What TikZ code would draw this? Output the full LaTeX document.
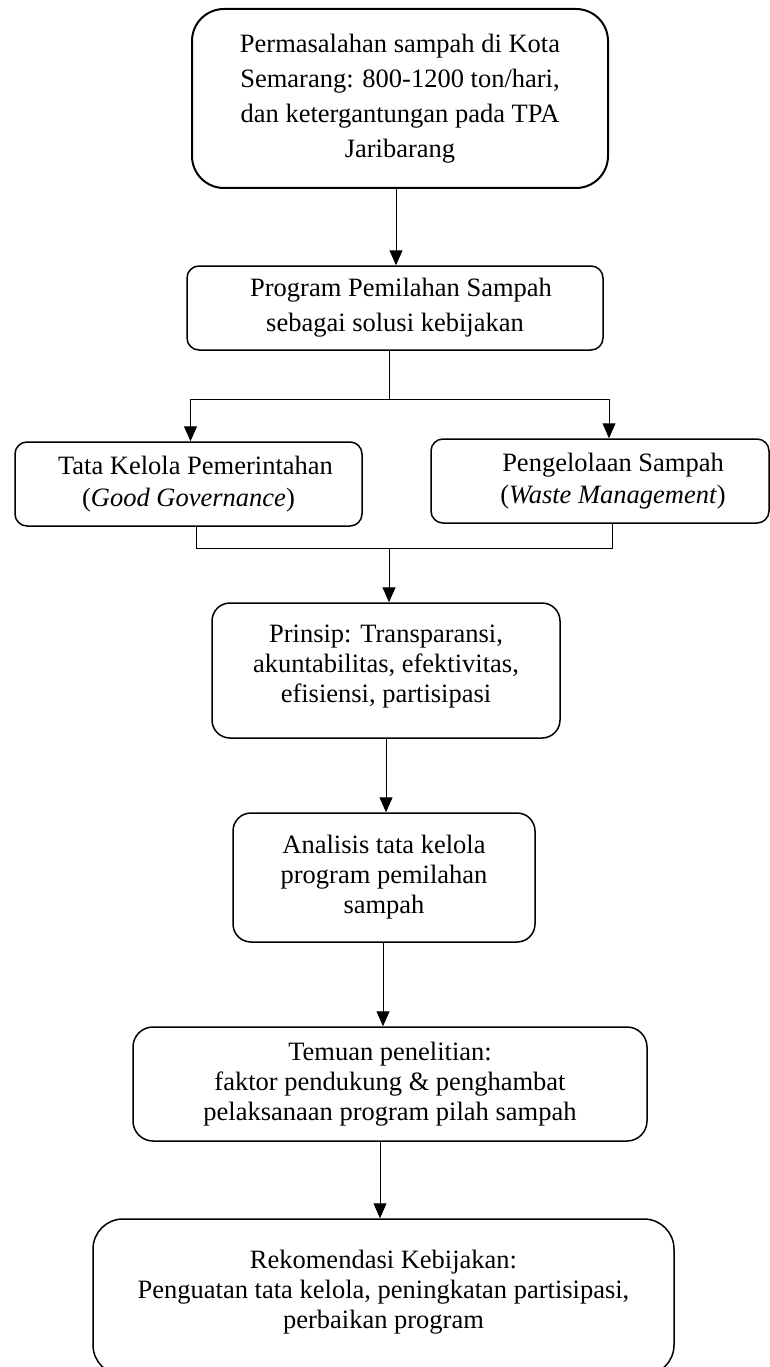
\documentclass[tikz,border=0pt]{standalone}
\usepackage{fontspec}
\setmainfont{Liberation Serif}
\usetikzlibrary{arrows.meta}
\begin{document}
\begin{tikzpicture}[x=1pt,y=-1pt,
  box/.style={draw, line width=1.5pt, align=center, inner sep=0pt, font=\fontsize{26.5}{30}\selectfont},
  conn/.style={line width=1pt},
  arr/.style={line width=1pt, -{Triangle[width=13pt,length=15pt]}}]
\useasboundingbox (0,0) rectangle (770,1367);
% top box
\node[box, line width=2pt, rounded corners=32pt, minimum width=416pt, minimum height=179pt, font=\fontsize{26.5}{35}\selectfont] (top) at (400,98.5) {Permasalahan sampah di Kota\\Semarang: 800-1200 ton/hari,\\dan ketergantungan pada TPA\\Jaribarang};
\node[box, rounded corners=12pt, minimum width=416pt, minimum height=84pt, font=\fontsize{26.5}{35}\selectfont] (prog) at (395,308) {\hspace*{12pt}Program Pemilahan Sampah\\sebagai solusi kebijakan};
\node[box, rounded corners=12pt, minimum width=347pt, minimum height=84pt, font=\fontsize{26.5}{32}\selectfont] (gov) at (188.5,484) {\hspace*{14pt}Tata Kelola Pemerintahan\\(\textit{Good Governance})};
\node[box, rounded corners=12pt, minimum width=338pt, minimum height=84pt, font=\fontsize{26.5}{32}\selectfont] (waste) at (600,481) {\hspace*{26pt}Pengelolaan Sampah\\\hspace*{26pt}(\textit{Waste Management})};
\node[box, rounded corners=18pt, minimum width=348pt, minimum height=135pt] (prin) at (386,670.5) {Prinsip: Transparansi,\\akuntabilitas, efektivitas,\\efisiensi, partisipasi\\[-16pt]\mbox{}};
\node[box, rounded corners=18pt, minimum width=302pt, minimum height=129pt] (anal) at (384,877.5) {Analisis tata kelola\\program pemilahan\\sampah};
\node[box, rounded corners=20pt, minimum width=514pt, minimum height=114pt] (temu) at (390,1084) {Temuan penelitian:\\faktor pendukung \& penghambat\\pelaksanaan program pilah sampah};
\node[box, rounded corners=30pt, minimum width=581pt, minimum height=156pt] (rek) at (383.5,1297) {Rekomendasi Kebijakan:\\Penguatan tata kelola, peningkatan partisipasi,\\perbaikan program\\[-14pt]\mbox{}};
% connectors
\draw[arr] (top.south -| 396,0) -- (prog.north -| 396,0);
\coordinate (split) at (389,399);
\draw[conn] (prog.south -| split) -- (split);
\draw[arr] (split) -| (gov.north -| 190.5,0);
\draw[arr] (split) -| (waste.north -| 609,0);
\coordinate (join) at (389,548);
\draw[conn] (gov.south -| 196.5,0) |- (join);
\draw[conn] (waste.south -| 612,0) |- (join);
\draw[arr] (join) -- (prin.north -| join);
\draw[arr] (prin.south -| 386,0) -- (anal.north -| 386,0);
\draw[arr] (anal.south -| 383,0) -- (temu.north -| 383,0);
\draw[arr] (temu.south -| 380,0) -- (rek.north -| 380,0);
\end{tikzpicture}
\end{document}
